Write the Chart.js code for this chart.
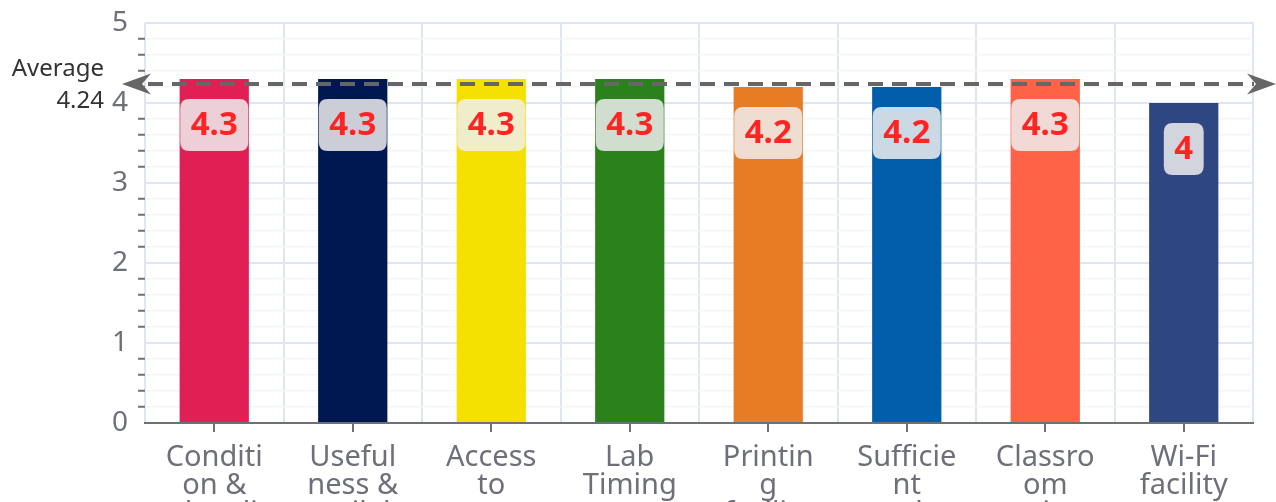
<!DOCTYPE html>
<html>
<head>
<meta charset="utf-8">
<script src="https://cdn.jsdelivr.net/npm/chart.js@4"></script>
<style>
  html, body { margin: 0; padding: 0; background: #ffffff; }
  #wrap { width: 1276px; height: 502px; position: relative; }
</style>
</head>
<body>
<div id="wrap"><canvas id="c"></canvas></div>
<script>
// ---- data ----
const categories = [
  ["Conditi", "on &", "cleanli"],
  ["Useful", "ness &", "availab"],
  ["Access", "to", "compute"],
  ["Lab", "Timing"],
  ["Printin", "g", "facility"],
  ["Sufficie", "nt", "number"],
  ["Classro", "om", "environ"],
  ["Wi-Fi", "facility"]
];
const ratings = [4.3, 4.3, 4.3, 4.3, 4.2, 4.2, 4.3, 4];
const barColors = ["#e01f54", "#001852", "#f4e001", "#2b821d", "#e87c25", "#005eaa", "#ff6347", "#2e4783"];
const yMin = 0, yMax = 5, yStep = 0.2;
const averageTitle = "Average";

const FONT = "'Noto Sans', 'Open Sans', sans-serif";
const isInt = v => Math.abs(v - Math.round(v)) < 1e-6;
const average = ratings.reduce((a, b) => a + b, 0) / ratings.length;

function roundRect(ctx, x, y, w, h, r) {
  ctx.beginPath();
  ctx.moveTo(x + r, y);
  ctx.lineTo(x + w - r, y);
  ctx.quadraticCurveTo(x + w, y, x + w, y + r);
  ctx.lineTo(x + w, y + h - r);
  ctx.quadraticCurveTo(x + w, y + h, x + w - r, y + h);
  ctx.lineTo(x + r, y + h);
  ctx.quadraticCurveTo(x, y + h, x, y + h - r);
  ctx.lineTo(x, y + r);
  ctx.quadraticCurveTo(x, y, x + r, y);
  ctx.closePath();
}

const valueLabels = {
  id: 'valueLabels',
  afterDatasetsDraw(chart) {
    const ctx = chart.ctx;
    const meta = chart.getDatasetMeta(0);
    ctx.save();
    ctx.font = "bold 33px " + FONT;
    ctx.textAlign = 'center';
    ctx.textBaseline = 'middle';
    meta.data.forEach((bar, i) => {
      const txt = String(ratings[i]);
      const tw = ctx.measureText(txt).width;
      const w = tw + 21, h = 52;
      const x = bar.x - w / 2, y = bar.y + 20;
      ctx.fillStyle = 'rgba(238,238,238,0.85)';
      roundRect(ctx, x, y, w, h, 9);
      ctx.fill();
      ctx.fillStyle = '#ff2424';
      ctx.fillText(txt, bar.x, y + h / 2 + 1);
    });
    ctx.restore();
  }
};

function arrow(ctx, tipX, y, dir) {
  const len = 29, half = 10.5, notch = 20;
  ctx.beginPath();
  ctx.moveTo(tipX, y);
  ctx.lineTo(tipX + dir * len, y - half);
  ctx.lineTo(tipX + dir * notch, y);
  ctx.lineTo(tipX + dir * len, y + half);
  ctx.closePath();
  ctx.fill();
}

const averageLine = {
  id: 'averageLine',
  afterDatasetsDraw(chart) {
    const ctx = chart.ctx;
    const a = chart.chartArea;
    const y = chart.scales.y.getPixelForValue(average);
    const x0 = a.left - 23, x1 = a.right + 23;
    ctx.save();
    ctx.strokeStyle = '#666666';
    ctx.fillStyle = '#666666';
    ctx.lineWidth = 4;
    ctx.setLineDash([15, 9]);
    ctx.beginPath();
    ctx.moveTo(x0 + 26, y);
    ctx.lineTo(x1 - 22, y);
    ctx.stroke();
    ctx.setLineDash([]);
    arrow(ctx, x0, y, 1);
    arrow(ctx, x1, y, -1);
    ctx.font = "24px " + FONT;
    ctx.fillStyle = '#333333';
    ctx.textAlign = 'right';
    ctx.textBaseline = 'alphabetic';
    ctx.fillText(averageTitle, x0 - 18, y - 8);
    ctx.fillText(average.toFixed(2), x0 - 18, y + 24);
    ctx.restore();
  }
};

const xTicks = {
  id: 'xTicks',
  afterDraw(chart) {
    const ctx = chart.ctx;
    const xs = chart.scales.x;
    const yb = chart.chartArea.bottom;
    ctx.save();
    ctx.strokeStyle = '#6e7079';
    ctx.lineWidth = 2;
    categories.forEach((c, i) => {
      const x = Math.round(xs.getPixelForValue(i));
      ctx.beginPath();
      ctx.moveTo(x, yb);
      ctx.lineTo(x, yb + 9);
      ctx.stroke();
    });
    ctx.restore();
  }
};

new Chart(document.getElementById('c'), {
  type: 'bar',
  data: {
    labels: categories,
    datasets: [{
      data: ratings,
      backgroundColor: barColors,
      borderWidth: 0,
      barPercentage: 0.5,
      categoryPercentage: 1
    }]
  },
  options: {
    responsive: true,
    maintainAspectRatio: false,
    animation: false,
    layout: { padding: { top: 23, right: 23, left: 0, bottom: 0 } },
    plugins: { legend: { display: false }, tooltip: { enabled: false } },
    scales: {
      x: {
        offset: true,
        grid: { color: '#e0e6f1', lineWidth: 2, drawTicks: false, offset: true },
        border: { display: true, color: '#6e7079', width: 2 },
        ticks: {
          color: '#6e7079',
          font: { family: FONT, size: 29, lineHeight: '28px' },
          padding: 21,
          maxRotation: 0,
          autoSkip: false
        },
        afterFit(s) { s.height = 79; s.paddingLeft = 0; s.paddingRight = 0; }
      },
      y: {
        min: yMin,
        max: yMax,
        border: { display: false },
        grid: {
          color: c => (c.tick && isInt(c.tick.value)) ? '#e0e6f1' : '#f3f5fa',
          lineWidth: c => (c.tick && isInt(c.tick.value)) ? 2 : 1.5,
          tickColor: c => (c.tick && isInt(c.tick.value)) ? 'rgba(0,0,0,0)' : '#6e7079',
          tickWidth: 2,
          tickLength: 7,
          drawTicks: true
        },
        ticks: {
          stepSize: yStep,
          autoSkip: false,
          color: '#6e7079',
          padding: 10,
          font: { family: FONT, size: 28 },
          callback: v => isInt(v) ? String(Math.round(v)) : ''
        },
        afterFit(s) { s.width = 145; s.paddingTop = 0; s.paddingBottom = 0; }
      }
    }
  },
  plugins: [valueLabels, averageLine, xTicks]
});
</script>
</body>
</html>
